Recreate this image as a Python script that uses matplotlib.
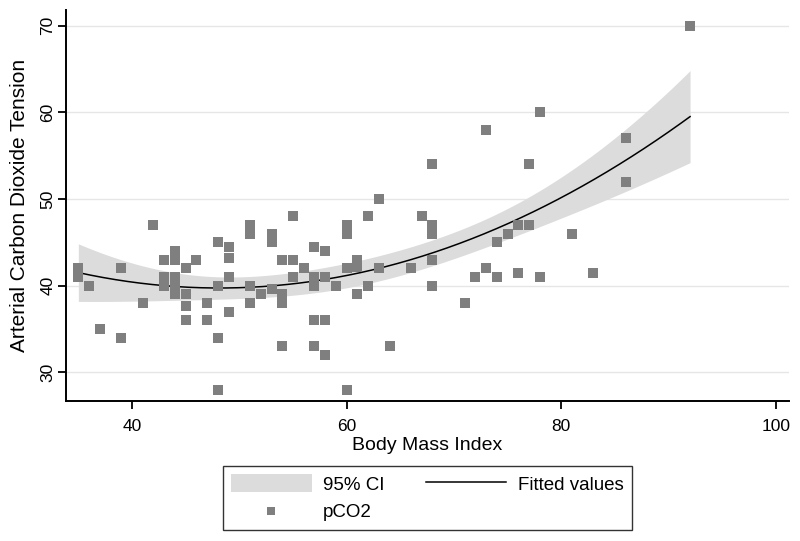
import numpy as np
import matplotlib.pyplot as plt

# scatter data: BMI vs pCO2
bmi = [35, 35, 36, 37, 39, 39, 41, 42,
       43, 43, 43, 44, 44, 44, 44, 44,
       45, 45, 45, 45, 46, 47, 47,
       48, 48, 48, 48, 49, 49, 49, 49,
       51, 51, 51, 51, 52, 53, 53, 53,
       54, 54, 54, 54, 55, 55, 55, 56,
       57, 57, 57, 57, 57, 58, 58, 58, 58, 59,
       60, 60, 60, 60, 61, 61, 61, 62, 62, 63, 63, 64,
       66, 67, 68, 68, 68, 68, 68,
       71, 72, 73, 73, 74, 74, 75, 76, 76, 77, 77, 78, 78,
       81, 83, 86, 86, 92]
pco2 = [42, 41, 40, 35, 42, 34, 38, 47,
        43, 41, 40, 44, 43, 41, 40, 39,
        42, 39, 37.6, 36, 43, 38, 36,
        45, 40, 34, 28, 44.5, 43.2, 41, 37,
        47, 46, 40, 38, 39, 46, 45, 39.6,
        43, 39, 38, 33, 48, 43, 41, 42,
        44.5, 41, 40, 36, 33, 44, 41, 36, 32, 40,
        47, 46, 42, 28, 43, 42.2, 39, 48, 40, 50, 42, 33,
        42, 48, 54, 47, 46, 43, 40,
        38, 41, 58, 42, 45, 41, 46, 47, 41.5, 54, 47, 60, 41,
        46, 41.5, 57, 52, 70]

x = np.array(bmi, dtype=float)
y = np.array(pco2, dtype=float)

# quadratic fit with 95% CI of the mean prediction (like Stata qfitci)
X = np.column_stack([np.ones_like(x), x, x ** 2])
beta, _, _, _ = np.linalg.lstsq(X, y, rcond=None)
resid = y - X @ beta
n = len(x)
s2 = np.sum(resid ** 2) / (n - 3)
cov = s2 * np.linalg.inv(X.T @ X)
xs = np.linspace(x.min(), x.max(), 200)
Xs = np.column_stack([np.ones_like(xs), xs, xs ** 2])
yhat = Xs @ beta
se = np.sqrt(np.sum((Xs @ cov) * Xs, axis=1))
t_crit = 1.986
lo = yhat - t_crit * se
hi = yhat + t_crit * se

plt.rcParams['font.family'] = ['Liberation Sans', 'DejaVu Sans']

fig = plt.figure(figsize=(8, 5.41), dpi=100)
ax = fig.add_axes([0.0825, 0.259, 0.9035, 0.7225])

ax.fill_between(xs, lo, hi, color='#dcdcdc', lw=0, zorder=2, label='95% CI')
ax.plot(xs, yhat, color='black', lw=1.1, zorder=3, label='Fitted values')
ax.scatter(x, y, marker='s', s=50, color='#7f7f7f', lw=0, zorder=4, label='pCO2')

ax.set_xlim(33.85, 101.2)
ax.set_ylim(26.7, 71.8)
ax.set_xticks([40, 60, 80, 100])
ax.set_yticks([30, 40, 50, 60, 70])
ax.grid(axis='y', color='#e6e6e6', lw=1)
ax.set_axisbelow(True)

for s in ['top', 'right']:
    ax.spines[s].set_visible(False)
for s in ['left', 'bottom']:
    ax.spines[s].set_linewidth(1.4)

ax.tick_params(axis='both', length=6, width=1.3, labelsize=12.5, direction='out')
ax.tick_params(axis='x', pad=7)
ax.tick_params(axis='y', labelrotation=90, pad=1.5)
for lab in ax.get_yticklabels():
    lab.set_va('center')

ax.set_xlabel('Body Mass Index', fontsize=14, labelpad=2)
ax.set_ylabel('Arterial Carbon Dioxide Tension', fontsize=15, labelpad=8)

h, l = ax.get_legend_handles_labels()
order = [0, 2, 1]
leg = fig.legend([h[i] for i in order], [l[i] for i in order], ncol=2,
                 loc='center', bbox_to_anchor=(0.534, 0.08), fontsize=13.5,
                 frameon=True, fancybox=False, edgecolor='black',
                 handlelength=4.3, handleheight=1.1, handletextpad=0.6,
                 columnspacing=2.2, labelspacing=0.45,
                 markerscale=0.75, borderpad=0.45, borderaxespad=0)
leg.get_frame().set_linewidth(1.0)

fig.savefig('out.png', dpi=100)
